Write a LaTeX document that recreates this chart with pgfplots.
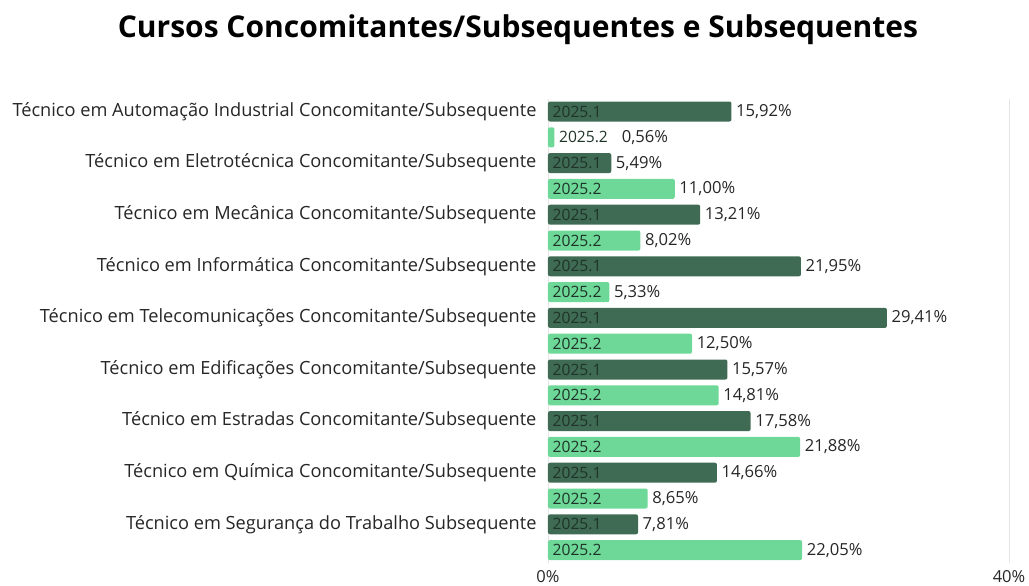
\documentclass[border=0pt]{standalone}
\usepackage{pgfplots}
\pgfplotsset{compat=1.18}
\usepackage{fontspec}
\setmainfont{Open Sans}
\definecolor{dk}{HTML}{3F6B55}
\definecolor{lt}{HTML}{6DD897}
\definecolor{txt}{HTML}{262626}
\definecolor{intxt}{HTML}{1F3328}
\begin{document}
\begin{tikzpicture}
\begin{axis}[
  scale only axis, width=461pt, height=464.4pt,
  xmin=0, xmax=40, ymin=-0.5, ymax=17.5, y dir=reverse,
  axis line style={draw=none}, major tick length=0pt,
  xtick={0,40}, xticklabels={0\%,40\%},
  xmajorgrids, grid style={black!10},
  ytick={0,2,...,16},
  yticklabels={
    Técnico em Automação Industrial Concomitante/Subsequente,
    Técnico em Eletrotécnica Concomitante/Subsequente,
    Técnico em Mecânica Concomitante/Subsequente,
    Técnico em Informática Concomitante/Subsequente,
    Técnico em Telecomunicações Concomitante/Subsequente,
    Técnico em Edificações Concomitante/Subsequente,
    Técnico em Estradas Concomitante/Subsequente,
    Técnico em Química Concomitante/Subsequente,
    Técnico em Segurança do Trabalho Subsequente},
  yticklabel style={font=\fontsize{18.2}{21}\selectfont, text=txt, xshift=-8pt},
  xticklabel style={font=\fontsize{16.5}{19}\selectfont, text=txt, yshift=-4pt},
  /pgf/number format/assume math mode=true,
  clip=false,
]
\addplot[xbar, bar width=20pt, bar shift=0pt, fill=dk, draw=none, rounded corners=2pt] coordinates {
 (15.92,0) (5.49,2) (13.21,4) (21.95,6) (29.41,8) (15.57,10) (17.58,12) (14.66,14) (7.81,16)};
\addplot[xbar, bar width=20pt, bar shift=0pt, fill=lt, draw=none, rounded corners=2pt] coordinates {
 (0.56,1) (11.00,3) (8.02,5) (5.33,7) (12.50,9) (14.81,11) (21.88,13) (8.65,15) (22.05,17)};
% inside labels
\addplot[draw=none, mark=none, nodes near coords={2025.1}, nodes near coords align={anchor=west},
  every node near coord/.append style={font=\fontsize{15.6}{18}\selectfont, text=intxt, inner xsep=4.5pt}] coordinates {
 (0,0) (0,2) (0,4) (0,6) (0,8) (0,10) (0,12) (0,14) (0,16)};
\addplot[draw=none, mark=none, nodes near coords={2025.2}, nodes near coords align={anchor=west},
  every node near coord/.append style={font=\fontsize{15.6}{18}\selectfont, text=intxt, inner xsep=4.5pt}] coordinates {
 (0.56,1) (0,3) (0,5) (0,7) (0,9) (0,11) (0,13) (0,15) (0,17)};
% value labels
\addplot[draw=none, mark=none, point meta=explicit,
  nodes near coords={\pgfmathprintnumber[fixed,fixed zerofill,precision=2,use comma]{\pgfplotspointmeta}\%},
  nodes near coords align={anchor=west},
  every node near coord/.append style={font=\fontsize{16.6}{19}\selectfont, text=txt, inner xsep=4.5pt}]
 table[x=lx, y=y, meta=v] {
lx y v
15.92 0 15.92
6.0 1 0.56
5.49 2 5.49
11.00 3 11.00
13.21 4 13.21
8.02 5 8.02
21.95 6 21.95
5.33 7 5.33
29.41 8 29.41
12.50 9 12.50
15.57 10 15.57
14.81 11 14.81
17.58 12 17.58
21.88 13 21.88
14.66 14 14.66
8.65 15 8.65
7.81 16 7.81
22.05 17 22.05
};
\end{axis}
\node[font=\fontsize{30}{36}\selectfont\bfseries, text=black] at ([shift={(-30pt,533pt)}]current axis.south west) {Cursos Concomitantes/Subsequentes e Subsequentes};
\pgfresetboundingbox
\path[use as bounding box] ([shift={(-548pt,-23pt)}]current axis.south west) rectangle ([shift={(481pt,563pt)}]current axis.south west);
\end{tikzpicture}
\end{document}
